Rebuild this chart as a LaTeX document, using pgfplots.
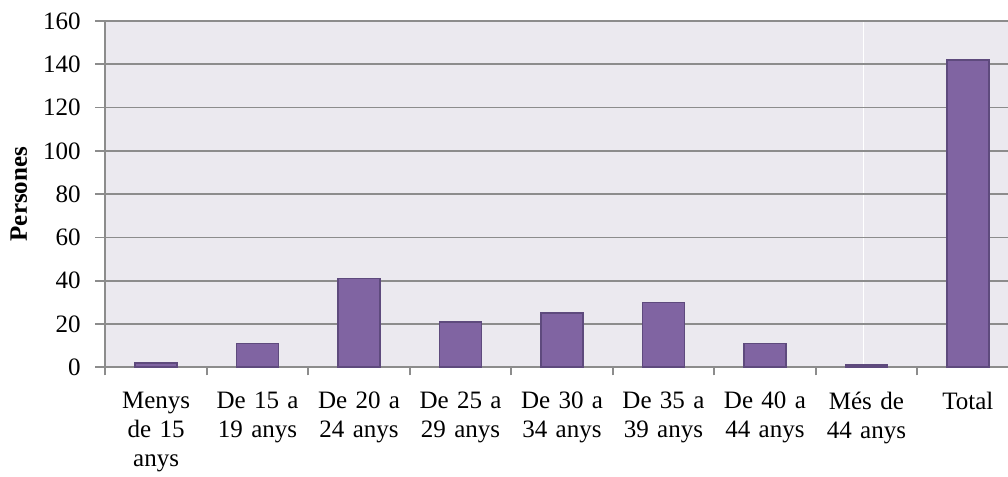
\documentclass[border=0pt]{standalone}
\usepackage{pgfplots}
\usepackage{fontspec}
\pgfplotsset{compat=1.18}
\setmainfont{Liberation Serif}

\definecolor{barfill}{HTML}{8064A2}
\definecolor{baredge}{HTML}{5E4A7D}
\definecolor{plotbg}{HTML}{EBE9EF}
\definecolor{gridgray}{HTML}{8C8C8C}

\begin{document}
\fontsize{12.5}{14.5}\selectfont
\begin{tikzpicture}
\begin{axis}[
    set layers,
    scale only axis,
    width=456.3pt,
    height=173pt,
    ybar,
    bar width=21pt,
    xmin=-0.5, xmax=8.5,
    ymin=0, ymax=160,
    ytick={0,20,...,160},
    xtick={0,...,8},
    xticklabels={Menys\\de 15\\anys, De 15 a\\19 anys, De 20 a\\24 anys, De 25 a\\29 anys, De 30 a\\34 anys, De 35 a\\39 anys, De 40 a\\44 anys, Més de\\44 anys, Total},
    xticklabel style={align=center, text width=52pt, yshift=-3pt},
    xtick style={draw=none},
    extra x ticks={-0.5,0.5,...,8.5},
    extra x tick labels={},
    extra x tick style={xtick style={draw=gridgray, line width=0.9pt}, major tick length=4pt},
    ytick style={draw=gridgray, line width=0.9pt},
    major tick length=5pt,
    tick align=outside,
    yticklabel style={xshift=-3pt},
    ymajorgrids,
    grid style={gridgray, line width=0.9pt},
    axis x line*=bottom,
    axis y line*=left,
    axis line style={gridgray, line width=0.9pt, -},
    axis background/.style={fill=plotbg},
    /pgf/number format/assume math mode=true,
    ylabel={\bfseries Persones},
    ylabel style={yshift=-0.5pt},
    tick label style={font=\fontsize{12.5}{14.5}\selectfont},
]
\begin{pgfonlayer}{axis background}
\draw[white, line width=0.6pt] (axis cs:6.97,0) -- (axis cs:6.97,160);
\end{pgfonlayer}
\addplot[fill=barfill, draw=baredge, line width=0.8pt] coordinates {
    (0,2) (1,11) (2,41) (3,21) (4,25) (5,30) (6,11) (7,1) (8,142)
};
\end{axis}
\pgfresetboundingbox
\useasboundingbox ([xshift=-52.65pt,yshift=-54.5pt]current axis.south west) rectangle ([xshift=-5.3pt,yshift=10.5pt]current axis.north east);
\end{tikzpicture}
\end{document}
